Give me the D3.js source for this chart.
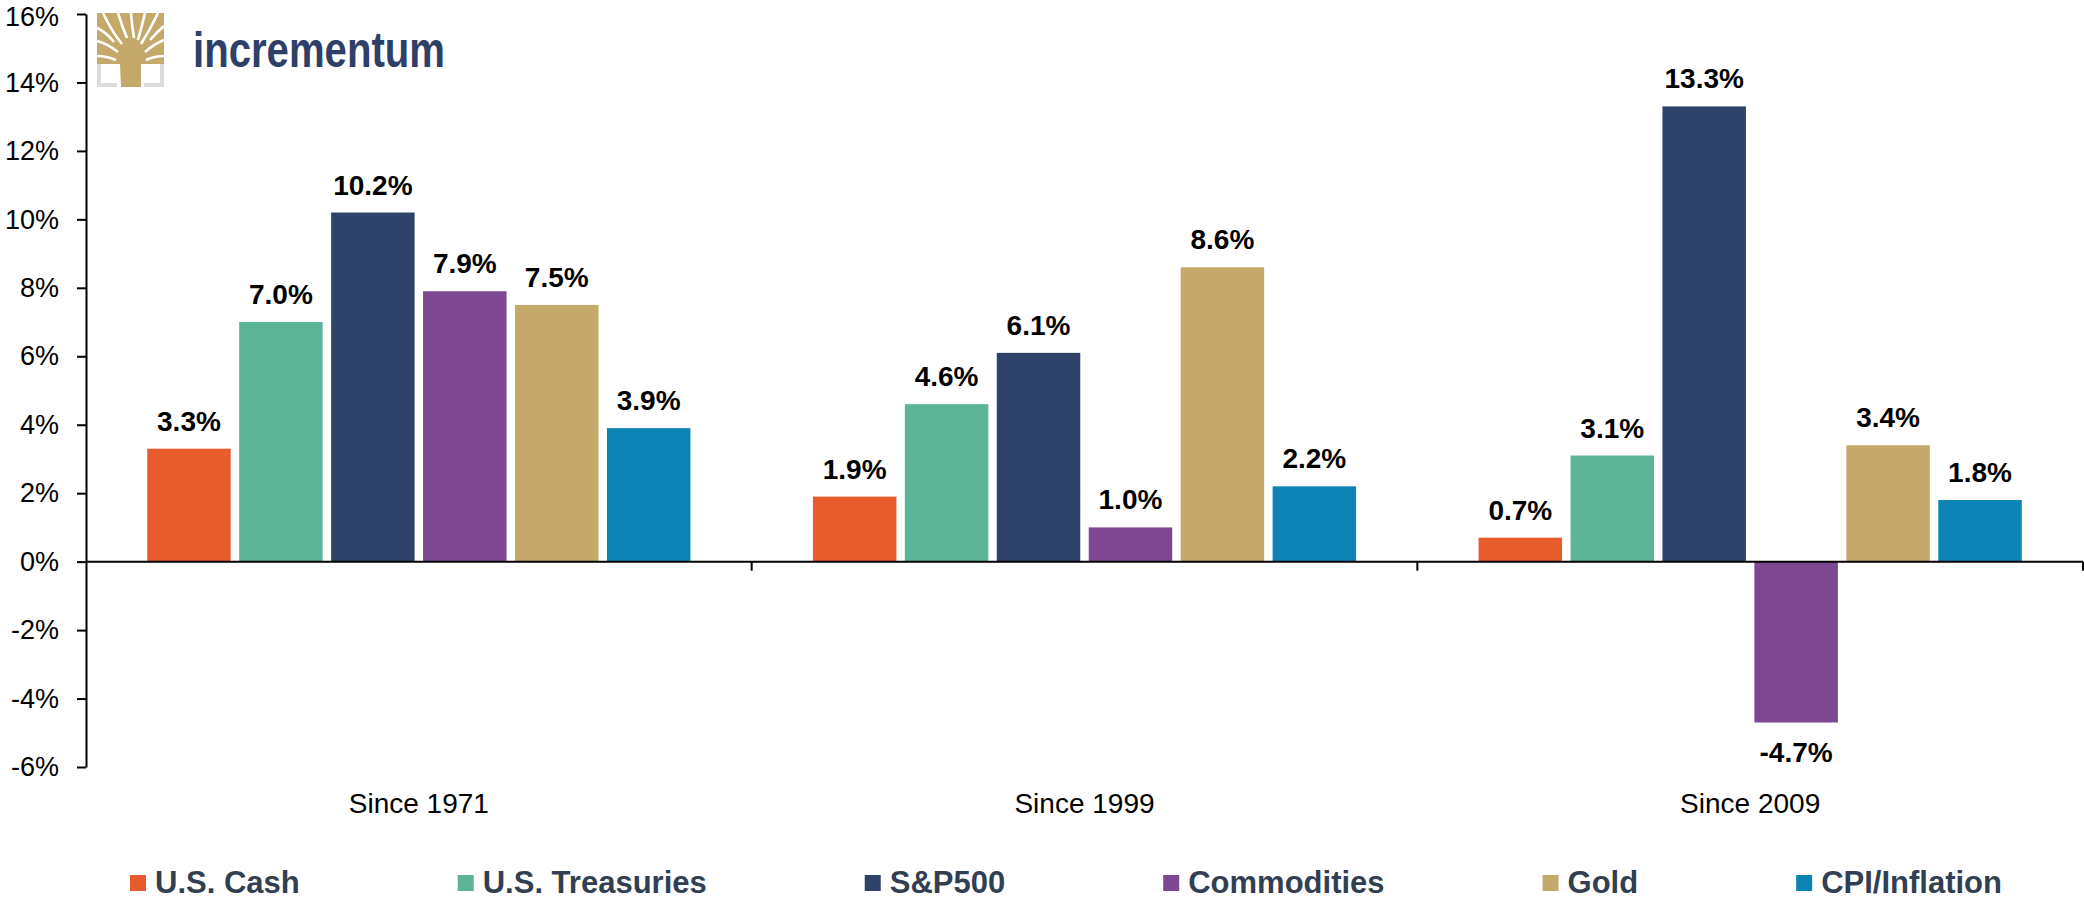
<!DOCTYPE html>
<html lang="en">
<head>
    <meta charset="utf-8">
    <title>Annualized returns by asset class</title>
    <script src="https://cdn.jsdelivr.net/npm/d3@7"></script>
    <style>
        body { margin: 0; background: #fff; }
        svg { display: block; font-family: Arial, "Liberation Sans", sans-serif; }
    </style>
</head>
<body>
    <svg id="chart" width="2084" height="899"></svg>

    <script>
        // data
        const periods = ["Since 1971", "Since 1999", "Since 2009"];
        const assets = ["U.S. Cash", "U.S. Treasuries", "S&P500", "Commodities", "Gold", "CPI/Inflation"];
        const cash = [3.3, 1.9, 0.7];
        const treasuries = [7.0, 4.6, 3.1];
        const sp500 = [10.2, 6.1, 13.3];
        const commodities = [7.9, 1.0, -4.7];
        const gold = [7.5, 8.6, 3.4];
        const cpi = [3.9, 2.2, 1.8];
        const yTicks = [-6, -4, -2, 0, 2, 4, 6, 8, 10, 12, 14, 16];

        const seriesValues = [cash, treasuries, sp500, commodities, gold, cpi];
        const colors = ["#e85b2a", "#5bb596", "#2f426a", "#7d4891", "#c4a96b", "#0b84b5"];

        const svg = d3.select("#chart");
        const plotLeft = 86, plotRight = 2083, plotTop = 14, plotBottom = 767;

        const y = d3.scaleLinear().domain([-6, 16]).range([plotBottom, plotTop]);
        const x0 = d3.scaleBand().domain(periods).range([plotLeft, plotRight]);
        const x1 = d3.scaleBand().domain(assets).range([0, x0.bandwidth()])
            .paddingInner(0.092).paddingOuter(0.666);

        const rows = [];
        periods.forEach((p, i) => {
            assets.forEach((a, j) => rows.push({ period: p, asset: a, value: seriesValues[j][i], color: colors[j] }));
        });

        // bars
        svg.append("g").selectAll("rect")
            .data(rows)
            .join("rect")
            .attr("x", d => x0(d.period) + x1(d.asset))
            .attr("y", d => y(Math.max(0, d.value)))
            .attr("width", x1.bandwidth())
            .attr("height", d => Math.abs(y(d.value) - y(0)))
            .attr("fill", d => d.color);

        // value labels
        svg.append("g").selectAll("text")
            .data(rows)
            .join("text")
            .attr("x", d => x0(d.period) + x1(d.asset) + x1.bandwidth() / 2)
            .attr("y", d => d.value >= 0 ? y(d.value) - 18 : y(d.value) + 39)
            .attr("text-anchor", "middle")
            .attr("font-size", 28)
            .attr("font-weight", "bold")
            .attr("fill", "#000")
            .text(d => d.value.toFixed(1) + "%");

        // y axis
        const yAxis = svg.append("g")
            .attr("transform", `translate(${plotLeft},0)`)
            .call(d3.axisLeft(y).tickValues(yTicks).tickFormat(d => d + "%")
                .tickSize(9).tickSizeOuter(0).tickPadding(18));
        yAxis.selectAll("path, line").attr("stroke", "#000").attr("stroke-width", 2);
        yAxis.selectAll("text").attr("font-size", 27).attr("fill", "#000")
            .attr("font-family", "Arial, 'Liberation Sans', sans-serif")
            .attr("dy", d => d === 16 ? "0.42em" : "0.32em");

        // zero line with group dividers
        svg.append("line")
            .attr("x1", plotLeft).attr("x2", plotRight)
            .attr("y1", y(0)).attr("y2", y(0))
            .attr("stroke", "#000").attr("stroke-width", 2);
        svg.append("g").selectAll("line")
            .data(periods)
            .join("line")
            .attr("x1", d => x0(d) + x0.bandwidth())
            .attr("x2", d => x0(d) + x0.bandwidth())
            .attr("y1", y(0)).attr("y2", y(0) + 9)
            .attr("stroke", "#000").attr("stroke-width", 2);

        // category labels
        svg.append("g").selectAll("text")
            .data(periods)
            .join("text")
            .attr("x", d => x0(d) + x0.bandwidth() / 2)
            .attr("y", 813)
            .attr("text-anchor", "middle")
            .attr("font-size", 28)
            .attr("fill", "#000")
            .text(d => d);

        // legend, laid out by text width
        const legend = svg.append("g");
        let lx = 130;
        assets.forEach((a, j) => {
            legend.append("rect")
                .attr("x", lx).attr("y", 875)
                .attr("width", 16).attr("height", 16)
                .attr("fill", colors[j]);
            const t = legend.append("text")
                .attr("x", lx + 25).attr("y", 893)
                .attr("font-size", 31)
                .attr("font-weight", "bold")
                .attr("fill", "#323f52")
                .text(a);
            lx += 25 + t.node().getComputedTextLength() + 158;
        });

        // logo
        const logo = svg.append("g");
        logo.append("rect").attr("x", 97).attr("y", 13).attr("width", 67).attr("height", 51).attr("fill", "#c4a96b");
        logo.append("path")
            .attr("d", "M120,64 C123,58 122,52 114,46 L148,46 C140,52 138,58 141,64 L141,87 L121,87 Z")
            .attr("fill", "#c4a96b");
        const gaps = [
            "M118,52 Q108,44 97,41", "M116,60 Q106,56 97,56", "M122,44 Q112,32 103,13",
            "M127,38 Q122,26 118,13", "M134,38 Q132,26 131,13", "M138,40 Q142,26 145,13",
            "M141,44 Q150,30 158,13", "M145,52 Q154,44 164,40", "M146,60 Q155,56 164,56",
            "M114,42 Q106,32 97,28", "M150,40 Q157,32 164,26"
        ];
        logo.selectAll("path.gap")
            .data(gaps)
            .join("path")
            .attr("class", "gap")
            .attr("d", d => d)
            .attr("fill", "none")
            .attr("stroke", "#fff")
            .attr("stroke-width", 2.6);
        logo.append("path")
            .attr("d", "M97,64 L101,64 L101,83 L117,83 L117,87 L97,87 Z M164,64 L160,64 L160,83 L144,83 L144,87 L164,87 Z")
            .attr("fill", "#dcdcdc");
        logo.append("text")
            .attr("x", 193).attr("y", 67)
            .attr("font-size", 50)
            .attr("font-weight", "bold")
            .attr("fill", "#2e4068")
            .attr("textLength", 252)
            .attr("lengthAdjust", "spacingAndGlyphs")
            .text("incrementum");
    </script>
</body>
</html>
